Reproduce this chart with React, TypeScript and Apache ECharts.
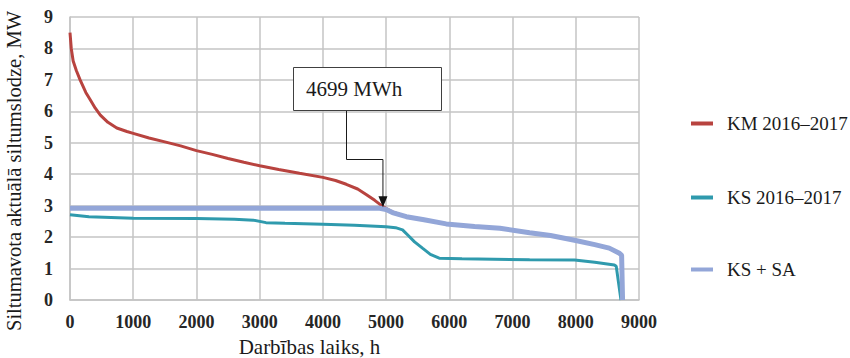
import React, { useEffect, useRef } from "react";
import * as echarts from "echarts";

const xTicks = [0, 1000, 2000, 3000, 4000, 5000, 6000, 7000, 8000, 9000];
const yTicks = [0, 1, 2, 3, 4, 5, 6, 7, 8, 9];

const kmHours = [0, 20, 50, 100, 160, 250, 320, 400, 480, 600, 740, 900, 1000, 1250, 1500, 1750, 2000, 2250, 2500, 2750, 3000, 3300, 3630, 4000, 4200, 4370, 4550, 4690, 4820, 4950, 5100, 5320, 5600, 5950, 6400, 6800, 7270, 7600, 7980, 8300, 8530, 8690, 8740];
const kmValues = [8.5, 8.0, 7.6, 7.3, 7.0, 6.6, 6.37, 6.1, 5.88, 5.65, 5.47, 5.36, 5.3, 5.15, 5.03, 4.9, 4.75, 4.63, 4.5, 4.38, 4.27, 4.15, 4.03, 3.9, 3.8, 3.68, 3.53, 3.35, 3.17, 2.97, 2.8, 2.65, 2.55, 2.42, 2.34, 2.28, 2.14, 2.05, 1.9, 1.76, 1.65, 1.47, 1.4];

const ksHours = [0, 300, 1000, 2000, 2600, 2900, 3100, 3400, 4000, 4500, 5000, 5150, 5260, 5350, 5450, 5580, 5700, 5840, 6200, 7270, 7980, 8300, 8610, 8640, 8715];
const ksValues = [2.71, 2.65, 2.6, 2.59, 2.57, 2.54, 2.46, 2.44, 2.41, 2.38, 2.33, 2.3, 2.23, 2.05, 1.85, 1.64, 1.45, 1.33, 1.31, 1.28, 1.27, 1.2, 1.11, 1.07, 0];

const ksSaHours = [0, 4900, 5000, 5100, 5320, 5600, 5950, 6400, 6800, 7270, 7600, 7980, 8300, 8530, 8690, 8725, 8740];
const ksSaValues = [2.92, 2.92, 2.88, 2.78, 2.65, 2.55, 2.42, 2.34, 2.28, 2.14, 2.05, 1.9, 1.76, 1.65, 1.49, 1.42, 0];

const seriesNames = ["KM 2016–2017", "KS 2016–2017", "KS + SA"];
const annotationText = "4699 MWh";
const annotationPoint = [4950, 2.95];

const zip = (xs: number[], ys: number[]) => xs.map((x, i) => [x, ys[i]]);

export default function App() {
  const ref = useRef<HTMLDivElement>(null);
  useEffect(() => {
    document.body.style.margin = "0";
    const chart = echarts.init(ref.current!, undefined, { renderer: "svg" });
    const serif = "Liberation Serif";
    const gridColor = "#c4c4c4";
    const legendBase = (name: string, top: number) => ({
      data: [name],
      orient: "vertical",
      left: 691,
      top,
      padding: 0,
      itemWidth: 22,
      itemHeight: 4,
      icon: "rect",
      selectedMode: false,
      textStyle: { fontFamily: serif, fontSize: 19, color: "#1a1a1a", padding: [0, 0, 0, 9] },
    });
    chart.setOption({
      animation: false,
      grid: { left: 70, right: 211, top: 17, bottom: 58 },
      legend: [
        legendBase(seriesNames[0], 114),
        legendBase(seriesNames[1], 188),
        legendBase(seriesNames[2], 260),
      ],
      xAxis: {
        type: "value",
        min: xTicks[0],
        max: xTicks[xTicks.length - 1],
        interval: 1000,
        axisLine: { show: true, lineStyle: { color: gridColor, width: 1.5 } },
        axisTick: { show: false },
        splitLine: { show: true, lineStyle: { color: gridColor, width: 1.5 } },
        axisLabel: {
          fontFamily: serif, fontSize: 18, fontWeight: "bold", color: "#262626", margin: 13,
          formatter: (v: number) => String(v),
        },
      },
      yAxis: {
        type: "value",
        min: yTicks[0],
        max: yTicks[yTicks.length - 1],
        interval: 1,
        axisLine: { show: true, lineStyle: { color: gridColor, width: 1.5 } },
        axisTick: { show: false },
        splitLine: { show: true, lineStyle: { color: gridColor, width: 1.5 } },
        axisLabel: {
          fontFamily: serif, fontSize: 18, fontWeight: "bold", color: "#262626", margin: 17,
          formatter: (v: number) => String(v),
        },
      },
      series: [
        {
          name: seriesNames[0],
          type: "line",
          data: zip(kmHours, kmValues),
          showSymbol: false,
          lineStyle: { color: "#b8433f", width: 3 },
          itemStyle: { color: "#b8433f" },
          z: 2,
        },
        {
          name: seriesNames[1],
          type: "line",
          data: zip(ksHours, ksValues),
          showSymbol: false,
          lineStyle: { color: "#2f9aad", width: 3 },
          itemStyle: { color: "#2f9aad" },
          z: 3,
        },
        {
          name: seriesNames[2],
          type: "line",
          data: zip(ksSaHours, ksSaValues),
          showSymbol: false,
          lineStyle: { color: "#93a6d8", width: 5 },
          itemStyle: { color: "#93a6d8" },
          z: 4,
        },
      ],
    });
    const tip = chart.convertToPixel({ gridIndex: 0 }, annotationPoint) as number[];
    const tx = tip[0];
    const ty = tip[1];
    chart.setOption({
      graphic: [
        {
          type: "text",
          x: 13.5,
          y: 171,
          rotation: Math.PI / 2,
          style: { text: "Siltumavota aktuālā siltumslodze, MW", fontFamily: serif, fontSize: 20.5, fill: "#1a1a1a", align: "center", verticalAlign: "middle" },
        },
        {
          type: "text",
          x: 309.5,
          y: 347,
          style: { text: "Darbības laiks, h", fontFamily: serif, fontSize: 21, fill: "#1a1a1a", align: "center", verticalAlign: "middle" },
        },
        {
          type: "rect",
          shape: { x: 293.5, y: 67.5, width: 148, height: 43 },
          style: { fill: "#ffffff", stroke: "#404040", lineWidth: 1 },
          z: 100,
        },
        {
          type: "text",
          x: 306,
          y: 89,
          style: { text: annotationText, fontFamily: serif, fontSize: 21, fill: "#1a1a1a", verticalAlign: "middle" },
          z: 101,
        },
        {
          type: "polyline",
          shape: { points: [[346.5, 111], [346.5, 159.5], [tx, 159.5], [tx, ty - 9]] },
          style: { stroke: "#1a1a1a", lineWidth: 1, fill: null },
          z: 100,
        },
        {
          type: "polygon",
          shape: { points: [[tx - 4.5, ty - 11], [tx + 4.5, ty - 11], [tx, ty]] },
          style: { fill: "#111111" },
          z: 101,
        },
      ],
    });
    return () => chart.dispose();
  }, []);
  return <div ref={ref} style={{ width: 850, height: 358, position: "absolute", left: 0, top: 0 }} />;
}
